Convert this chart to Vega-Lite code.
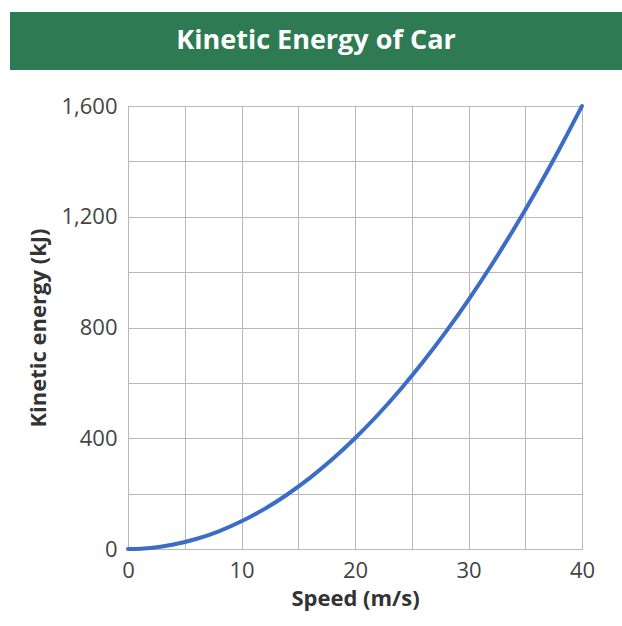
{
  "$schema": "https://vega.github.io/schema/vega-lite/v6.json",
  "background": "white",
  "padding": {"left": 10, "top": 12, "right": 0, "bottom": 2},
  "spacing": 24,
  "config": {"font": "Open Sans"},
  "vconcat": [
    {
      "width": 612,
      "height": 58,
      "view": {"fill": "#2e7a53", "stroke": null},
      "data": {"values": [{"label": "Kinetic Energy of Car"}]},
      "mark": {"type": "text", "color": "white", "font": "Open Sans", "fontWeight": "bold", "fontSize": 27, "baseline": "middle", "align": "center"},
      "encoding": {"text": {"field": "label"}}
    },
    {
      "spacing": 0,
      "hconcat": [
        {
          "width": 17,
          "height": 443,
          "view": {"stroke": null, "fill": null},
          "data": {"values": []},
          "mark": {"type": "point", "opacity": 0},
          "encoding": {}
        },
        {
          "width": 454,
          "height": 443,
          "view": {"stroke": "#7a7a7a", "strokeWidth": 1},
          "data": {"values": [
            {"speed": 0, "energy": 0}, {"speed": 2, "energy": 4}, {"speed": 4, "energy": 16}, {"speed": 6, "energy": 36},
            {"speed": 8, "energy": 64}, {"speed": 10, "energy": 100}, {"speed": 12, "energy": 144}, {"speed": 14, "energy": 196},
            {"speed": 16, "energy": 256}, {"speed": 18, "energy": 324}, {"speed": 20, "energy": 400}, {"speed": 22, "energy": 484},
            {"speed": 24, "energy": 576}, {"speed": 26, "energy": 676}, {"speed": 28, "energy": 784}, {"speed": 30, "energy": 900},
            {"speed": 32, "energy": 1024}, {"speed": 34, "energy": 1156}, {"speed": 36, "energy": 1296}, {"speed": 38, "energy": 1444},
            {"speed": 40, "energy": 1600}
          ]},
          "mark": {"type": "line", "color": "#3b6dc7", "strokeWidth": 4, "interpolate": "monotone", "strokeCap": "round"},
          "encoding": {
            "x": {"field": "speed", "type": "quantitative", "scale": {"domain": [0, 40], "nice": false},
              "axis": {"title": "Speed (m/s)", "values": [0, 5, 10, 15, 20, 25, 30, 35, 40],
                "labelExpr": "datum.value % 10 === 0 ? datum.label : ''",
                "ticks": false, "domain": false, "grid": true, "gridColor": "#b8b8b8", "gridOpacity": 1,
                "labelFont": "Open Sans", "labelFontSize": 22, "labelColor": "#444", "labelPadding": 11, "labelFlush": false,
                "titleFont": "Open Sans", "titleFontWeight": "bold", "titleFontSize": 22, "titleColor": "#333", "titlePadding": 7}},
            "y": {"field": "energy", "type": "quantitative", "scale": {"domain": [0, 1600], "nice": false},
              "axis": {"title": "Kinetic energy (kJ)", "values": [0, 200, 400, 600, 800, 1000, 1200, 1400, 1600],
                "labelExpr": "datum.value % 400 === 0 ? format(datum.value, ',') : ''",
                "ticks": false, "domain": false, "grid": true, "gridColor": "#b8b8b8", "gridOpacity": 1,
                "labelFont": "Open Sans", "labelFontSize": 22, "labelColor": "#444", "labelPadding": 11, "labelFlush": false,
                "titleFont": "Open Sans", "titleFontWeight": "bold", "titleFontSize": 22, "titleColor": "#333", "titlePadding": 10}}
          }
        }
      ]
    }
  ]
}
